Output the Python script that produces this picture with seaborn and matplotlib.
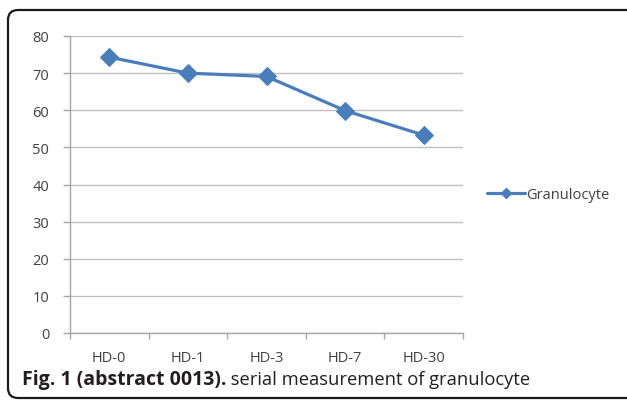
import matplotlib
matplotlib.use("Agg")
import matplotlib.pyplot as plt
import seaborn as sns
import pandas as pd
from matplotlib.patches import FancyBboxPatch
from matplotlib.transforms import IdentityTransform
from matplotlib.lines import Line2D

categories = ["HD-0", "HD-1", "HD-3", "HD-7", "HD-30"]
granulocyte = [74.3, 70.0, 69.1, 59.9, 53.3]
series_name = "Granulocyte"
y_ticks = [0, 10, 20, 30, 40, 50, 60, 70, 80]
caption_bold = "Fig. 1 (abstract 0013)."
caption_rest = " serial measurement of granulocyte"

df = pd.DataFrame({"day": categories, "value": granulocyte, "series": series_name})

sns.set_style("white")
plt.rcParams["font.family"] = ["Open Sans", "DejaVu Sans"]

W, H = 627, 402
fig = plt.figure(figsize=(W / 100, H / 100), dpi=100)
ax = fig.add_axes([70 / W, 1 - 334 / H, (463 - 70) / W, (334 - 37) / H])

blue = "#4A7EBB"
sns.lineplot(data=df, x="day", y="value", sort=False, ax=ax, color=blue,
             linewidth=2.3, marker="D", markersize=9, markeredgecolor=blue,
             legend=False)

ax.set_xlim(-0.5, len(categories) - 0.5)
ax.set_ylim(0, 80)
ax.set_yticks(y_ticks)
ax.set_yticklabels([str(t) for t in y_ticks], fontsize=10.5, color="#404040")
ax.set_xticks(range(len(categories)))
ax.set_xticklabels(categories, fontsize=10.5, color="#404040")
ax.tick_params(axis="x", length=0, pad=12)
ax.tick_params(axis="y", length=5, color="#a6a6a6", width=1, left=True, pad=10)
ax.set_xlabel("")
ax.set_ylabel("")
ax.grid(axis="y", color="#bfbfbf", linewidth=1)
ax.set_axisbelow(True)
for s in ["top", "right"]:
    ax.spines[s].set_visible(False)
for s in ["left", "bottom"]:
    ax.spines[s].set_color("#a6a6a6")
    ax.spines[s].set_linewidth(1)
# category boundary ticks on x axis
ax.set_xticks([i - 0.5 for i in range(len(categories) + 1)], minor=True)
ax.tick_params(axis="x", which="minor", length=4, color="#a6a6a6", width=1, bottom=True)

handle = Line2D([], [], color=blue, linewidth=2.3, marker="D", markersize=5,
                markeredgecolor=blue)
fig.legend([handle], [series_name], loc="center left",
           bbox_to_anchor=(474 / W, 1 - 196 / H), frameon=False, fontsize=10.5,
           handlelength=2.6, handletextpad=0.05, labelcolor="#404040")

# rounded frame
frame = FancyBboxPatch((8, 3), 640, 388, boxstyle="round,pad=0,rounding_size=10",
                       transform=IdentityTransform(), facecolor="none",
                       edgecolor="#1a1a1a", linewidth=1.6)
fig.patches.append(frame)
frame.set_figure(fig)

t1 = fig.text(22 / W, 1 - 380 / H, caption_bold, fontsize=14, fontweight="bold",
              va="center", ha="left", color="#231f20")
fig.canvas.draw()
bb = t1.get_window_extent()
fig.text(bb.x1 / W, 1 - 380 / H, caption_rest, fontsize=13.2, va="center",
         ha="left", color="#231f20")

fig.savefig("out.png", dpi=100)
